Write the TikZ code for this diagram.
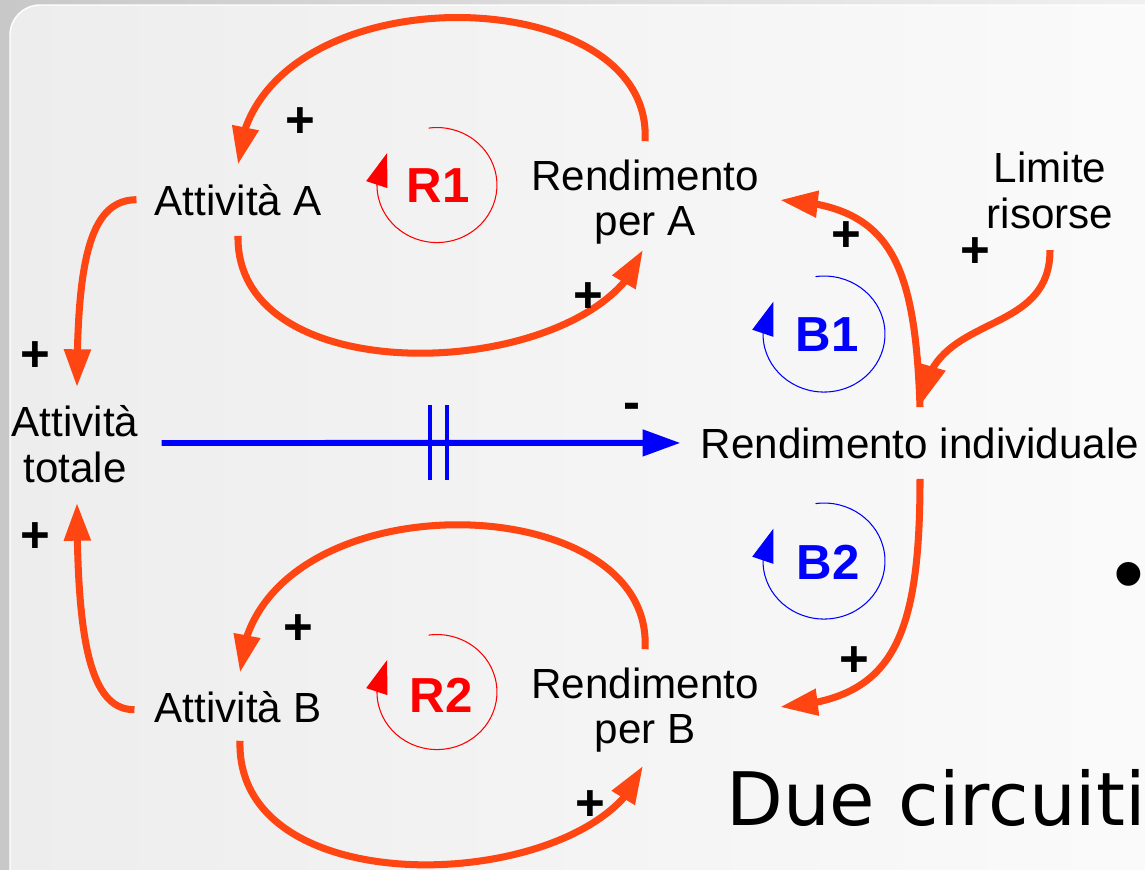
\documentclass[tikz,border=0pt]{standalone}
\usepackage{fontspec}
\setmainfont{Liberation Sans}
\newfontfamily\dejavu{DejaVu Sans}
\usetikzlibrary{arrows.meta,bending,calc}
\definecolor{linkc}{RGB}{255,69,18}
\definecolor{bgoutL}{RGB}{200,200,200}
\definecolor{bgoutR}{RGB}{240,240,240}
\definecolor{bginL}{RGB}{237,237,237}
\definecolor{bginR}{RGB}{251,251,251}
\begin{document}
\begin{tikzpicture}[x=0.02cm,y=-0.02cm,
  lbl/.style={inner sep=0pt, font=\fontsize{24}{26}\selectfont},
  lbltwo/.style={inner sep=0pt, font=\fontsize{24}{26}\selectfont, align=center},
  pol/.style={inner sep=0pt, font=\fontsize{29}{29}\selectfont\bfseries},
  loopname/.style={inner sep=0pt, font=\fontsize{28}{28}\selectfont\bfseries},
  link/.style={draw=linkc, line width=4pt, -{Triangle[length=21.5pt,width=14.5pt]}},
  delaylink/.style={draw=blue, line width=3.4pt, -{Triangle[length=21.5pt,width=14.5pt]}},
  delaybar/.style={draw=blue, line width=2.3pt},
  loopR/.style={draw=red, line width=0.6pt, -{Triangle[length=19pt,width=12.5pt]}},
  loopB/.style={draw=blue, line width=0.6pt, -{Triangle[length=19pt,width=12.5pt]}},
  bigtext/.style={inner sep=0pt, font=\dejavu\fontsize{42}{50}\selectfont},
  bullettext/.style={inner sep=0pt, font=\fontsize{50}{54}\selectfont}
]
\useasboundingbox (0,0) rectangle (1145,869);
\begin{scope}
\clip (0,0) rectangle (1145,869);
% background
\shade[left color=bgoutL, right color=bgoutR] (0,0) rectangle (1145,869);
\shade[rounded corners=0.6cm, left color=bginL, right color=bginR] (10,5) rectangle (1200,920);
\draw[white, line width=0.8pt, rounded corners=0.6cm] (10,5) rectangle (1200,920);

% variables
\node[lbl, anchor=base] (aA) at (238,215) {Attività A};
\node[lbltwo] (rpa) at (645,202) {Rendimento\\per A};
\node[lbltwo] (lim) at (1050,190.5) {Limite\\risorse};
\node[lbltwo] (atot) at (75,444) {Attività\\totale};
\node[lbl, anchor=base] (ri) at (920,458) {Rendimento individuale};
\node[lbl, anchor=base] (aB) at (238,722) {Attività B};
\node[lbltwo] (rpb) at (645,710) {Rendimento\\per B};

% loop names
\node[loopname, text=red] (r1) at (438,186) {R1};
\node[loopname, text=red] (r2) at (441,695) {R2};
\node[loopname, text=blue] (b1) at (827,335) {B1};
\node[loopname, text=blue] (b2) at (828,562) {B2};

% loop markers
\draw[loopR] ($(r1.center)+(-9.4,-57.9)$) arc[start angle=262,end angle=574,x radius=60,y radius=57.5];
\draw[loopR] ($(r2.center)+(-12.4,-59.9)$) arc[start angle=262,end angle=574,x radius=60,y radius=57.5];
\draw[loopB] ($(b1.center)+(-11.5,-58.4)$) arc[start angle=262,end angle=574,x radius=61,y radius=58];
\draw[loopB] ($(b2.center)+(-12.5,-58.4)$) arc[start angle=262,end angle=574,x radius=61,y radius=58];

% causal links
\draw[link] ($(rpa.north)+(0,-18)$) .. controls (655,-25) and (250,-30) .. ($(aA.north)+(0,-19)$);
\draw[link] ($(aA.south)+(0,20)$) .. controls (235,400) and (600,380) .. ($(rpa.south)+(-2,5)$);
\draw[link] ($(aA.west)+(-18,0)$) .. controls (90,200) and (77,260) .. ($(atot.north)+(2,-18)$);
\draw[link] ($(aB.west)+(-20,3)$) .. controls (90,710) and (77,640) .. ($(atot.south)+(2,20)$);
\draw[link] ($(rpb.north)+(0,-18)$) .. controls (655,482) and (250,477) .. ($(aB.north)+(2,-18)$);
\draw[link] ($(aB.south)+(2,18)$) .. controls (235,912) and (600,892) .. ($(rpb.south)+(-2,13)$);
\draw[link] ($(ri.north)+(0,-20)$) .. controls (915,260) and (890,205) .. ($(rpa.east)+(21,-2)$);
\draw[link] ($(lim.south)+(0,21)$) .. controls (1050,340) and (930,310) .. ($(ri.north)+(2,-24)$);
\draw[link] ($(ri.south)+(0,20)$) .. controls (920,645) and (890,700) .. ($(rpb.east)+(21,-3)$);

% delayed link
\draw[delaylink] ($(atot.east)+(23,-1)$) -- ($(ri.west)+(-20,0)$);
\coordinate (dly) at (438.5,443);
\draw[delaybar] ($(dly)+(-8.5,-38)$) -- ($(dly)+(-8.5,37)$);
\draw[delaybar] ($(dly)+(8.5,-38)$) -- ($(dly)+(8.5,37)$);

% polarities
\node[pol] (p1) at (300,122.5) {+};
\node[pol] (p2) at (588,298) {+};
\node[pol] (p3) at (846,237) {+};
\node[pol] (p4) at (975,253) {+};
\node[pol] (p5) at (35,357) {+};
\node[pol] (p6) at (35,538) {+};
\node[pol] (p7) at (298,630) {+};
\node[pol] (p8) at (590,806) {+};
\node[pol] (p9) at (854,662) {+};
\node[pol] (m1) at (632,411.5) {-};

% slide text
\node[bigtext, anchor=base west] (title) at (726,825) {Due circuiti};
\node[bullettext] (bul) at (1129,583) {•};
\end{scope}
\end{tikzpicture}
\end{document}
